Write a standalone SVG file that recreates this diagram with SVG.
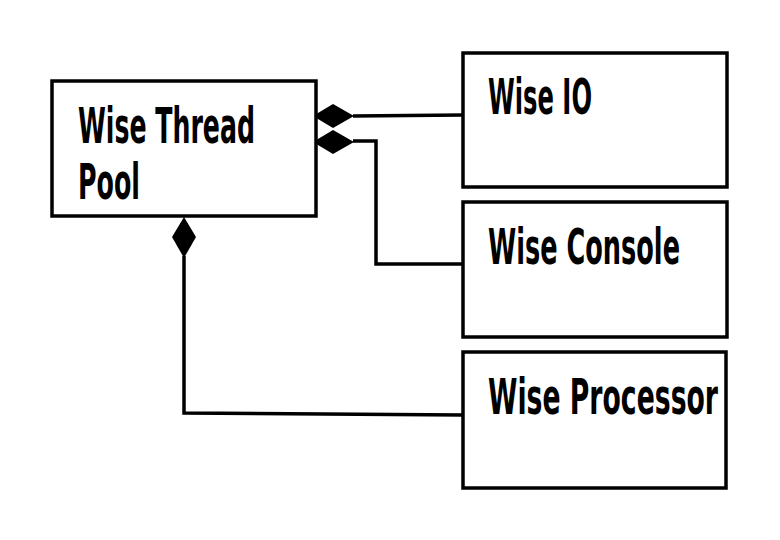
<svg xmlns="http://www.w3.org/2000/svg" width="780" height="540" viewBox="0 0 780 540">
<style>
.box{fill:#fff;stroke:#000;stroke-width:3.5}
.line{fill:none;stroke:#000;stroke-width:3.5}
.dia{fill:#000;stroke:none}
.t{font-family:"DejaVu Sans Condensed","Liberation Sans Narrow","Liberation Sans",sans-serif;font-weight:bold;font-size:50px;fill:#000}
</style>
<rect width="780" height="540" fill="#fff"/>
<g id="connectors">
<path class="line" d="M353,116 L463,115"/>
<path class="line" d="M353,141 L376,141 L376,264 L463,264"/>
<path class="line" d="M184,256 L184,413 L463,415"/>
<polygon class="dia" points="313,116 333,104 354,116 333,128"/>
<polygon class="dia" points="313,142 333,130 354,142 333,154"/>
<polygon class="dia" points="184,217 196,237 184,258 172,237"/>
</g>
<g id="thread-pool">
<rect class="box" x="52" y="81" width="264" height="135"/>
<text class="t" x="78" y="143" textLength="177" lengthAdjust="spacingAndGlyphs">Wise Thread</text>
<text class="t" x="78" y="199" textLength="62" lengthAdjust="spacingAndGlyphs">Pool</text>
</g>
<g id="wise-io">
<rect class="box" x="463" y="53" width="264" height="134"/>
<text class="t" x="488" y="114" textLength="104" lengthAdjust="spacingAndGlyphs">Wise IO</text>
</g>
<g id="wise-console">
<rect class="box" x="463" y="202" width="264" height="135"/>
<text class="t" x="488" y="264" textLength="192" lengthAdjust="spacingAndGlyphs">Wise Console</text>
</g>
<g id="wise-processor">
<rect class="box" x="463" y="352" width="263" height="136"/>
<text class="t" x="488" y="414" textLength="230" lengthAdjust="spacingAndGlyphs">Wise Processor</text>
</g>
</svg>
